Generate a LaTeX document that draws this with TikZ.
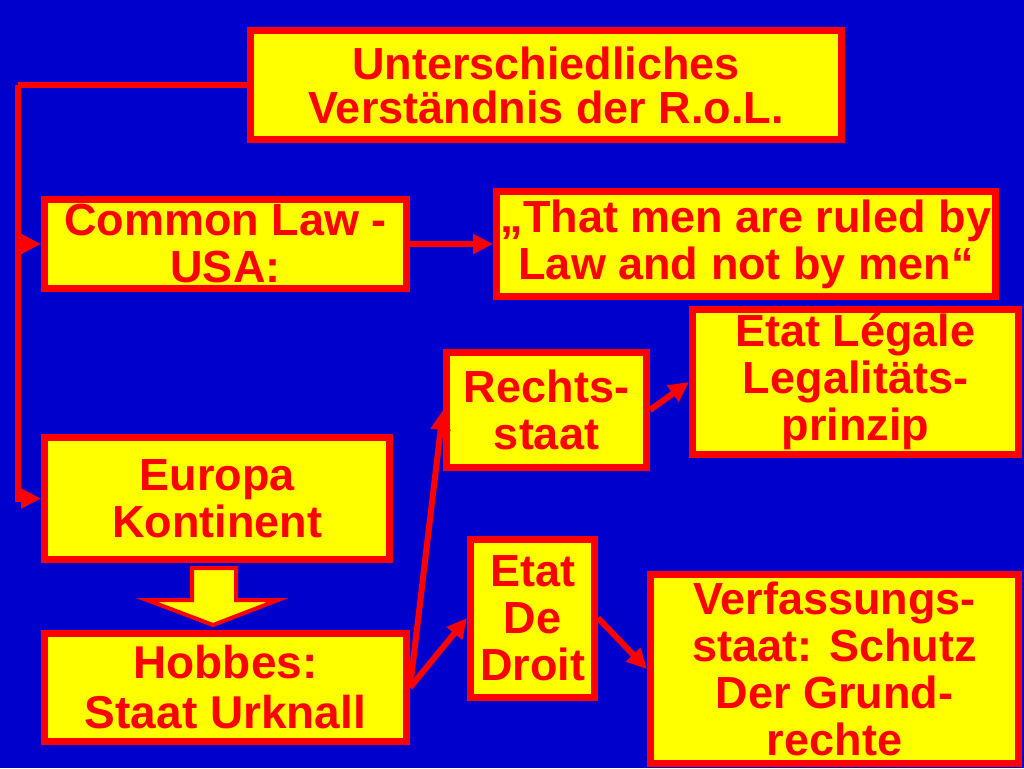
\documentclass[tikz,border=0pt]{standalone}
\usepackage{fontspec}
\setmainfont{Liberation Sans}
\usetikzlibrary{arrows.meta}
\definecolor{slideblue}{RGB}{0,0,204}
\definecolor{boxyellow}{RGB}{255,255,0}
\definecolor{boxred}{RGB}{255,0,0}
\begin{document}
\begin{tikzpicture}[x=1pt,y=-1pt,line join=miter,
  box/.style={draw=boxred,fill=boxyellow,line width=7pt,text=boxred,inner sep=0pt,
    align=center,font=\fontsize{45}{47}\selectfont\bfseries},
  conn/.style={draw=boxred,line width=6pt,-{Triangle[length=20pt,width=19pt]}},
  blockarrow/.style={draw=boxred,fill=boxyellow,line width=4pt}]
  \fill[slideblue] (0,0) rectangle (1024,768);
  \useasboundingbox (0,0) rectangle (1024,768);
  \node[box,minimum width=591pt,minimum height=109pt,font=\fontsize{45}{44}\selectfont\bfseries] (top) at (546,85) {Unterschiedliches\\Verständnis der R.o.L.};
  \node[box,minimum width=362pt,minimum height=89pt] (cl) at (225.5,244) {Common Law -\\USA:};
  \node[box,minimum width=499pt,minimum height=105pt] (quote) at (746,244) {„That men are ruled by\\Law and not by men“};
  \node[box,minimum width=326pt,minimum height=145pt] (legale) at (855.5,382) {Etat Légale\\Legalitäts-\\prinzip};
  \node[box,minimum width=200pt,minimum height=115pt] (rechts) at (546.5,410) {Rechts-\\staat};
  \node[box,minimum width=345pt,minimum height=122pt] (europa) at (217,498.5) {Europa\\Kontinent};
  \node[box,minimum width=362pt,minimum height=108pt,font=\fontsize{46}{50}\selectfont\bfseries] (hobbes) at (225.5,687.5) {Hobbes:\\Staat Urknall};
  \node[box,minimum width=124pt,minimum height=158pt] (droit) at (532.5,618) {Etat\\De\\Droit};
  \node[box,minimum width=368pt,minimum height=189pt] (verf) at (834.5,669) {Verfassungs-\\staat: Schutz\\Der Grund-\\rechte};
  \coordinate (bend) at (18,85);
  \draw[conn,-] (top.west) -- (bend);
  \draw[conn] (bend) |- (europa.west);
  \draw[conn] (bend |- cl.west) -- (cl.west);
  \draw[conn] (cl.east) -- (quote.west);
  \draw[conn] (hobbes.east) -- (rechts.west);
  \draw[conn] (hobbes.east) -- (droit.west);
  \draw[conn] (rechts.east) -- (legale.west);
  \draw[conn] (droit.east) -- (verf.west);
  \draw[blockarrow] (192,568) -- (236,568) -- (236,600) -- (278,600) -- (213,625)
    -- (147,600) -- (192,600) -- cycle;
\end{tikzpicture}
\end{document}
